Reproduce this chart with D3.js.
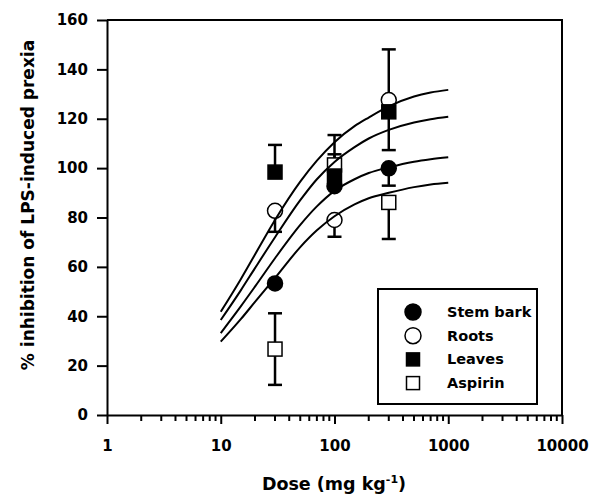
<!DOCTYPE html>
<html><head><meta charset="utf-8">
<script src="https://cdn.jsdelivr.net/npm/d3@7"></script>
<style>body{margin:0;background:#fff}svg{display:block}</style>
</head><body>
<svg id="c" width="592" height="497"></svg>
<script>
// ---- data ----
const doses = [30, 100, 300];
const seriesNames = ["Stem bark", "Roots", "Leaves", "Aspirin"];
const stemBark = [53.3, 92.7, 99.9];
const roots    = [82.7, 79.0, 127.6];
const leaves   = [98.4, 96.8, 122.8];
const aspirin  = [26.7, 101.3, 86.1];
const stemUp = [0, 0, 0],      stemDown = [0, 0, 7.0];
const rootsUp = [0, 0, 20.5],  rootsDown = [8.5, 6.8, 0];
const leavesUp = [11.0, 16.6, 0], leavesDown = [0, 0, 15.5];
const aspUp = [14.5, 4.3, 0],  aspDown = [14.5, 0, 14.8];
// fitted curves at these doses
const curveX = [10, 15, 20, 30, 50, 70, 100, 150, 200, 300, 500, 700, 1000];
const curve1 = [41.8, 55.0, 65.0, 79.0, 94.5, 103.0, 110.5, 117.0, 120.5, 125.0, 129.0, 130.6, 131.7];
const curve2 = [38.5, 50.5, 59.5, 72.0, 87.0, 95.5, 102.5, 108.5, 112.0, 115.5, 118.5, 119.8, 120.8];
const curve3 = [33.2, 44.0, 52.0, 63.5, 77.0, 84.5, 90.8, 95.5, 98.0, 100.3, 102.6, 103.6, 104.4];
const curve4 = [29.7, 38.8, 45.8, 55.5, 68.0, 74.8, 80.5, 85.3, 87.8, 90.0, 92.3, 93.4, 94.1];
const xTickValues = [1, 10, 100, 1000, 10000];
const yTickValues = [0, 20, 40, 60, 80, 100, 120, 140, 160];

// ---- layout ----
const svg = d3.select("#c");
const L = 107, R = 562, T = 20, B = 415;
const x = d3.scaleLog().domain([1, 10000]).range([L, R]);
const y = d3.scaleLinear().domain([0, 160]).range([B, T]);
const font = "DejaVu Sans";

// frame (top, right)
svg.append("path").attr("d", `M${L},${T}H${R}V${B}`).attr("fill","none").attr("stroke","#000").attr("stroke-width",2);

// minor x ticks
const minor = [];
for (let d = 1; d < 10000; d *= 10) for (let k = 2; k <= 9; k++) minor.push(d * k);
svg.append("g").selectAll("line").data(minor).join("line")
  .attr("x1", d => x(d)).attr("x2", d => x(d)).attr("y1", B).attr("y2", B + 6)
  .attr("stroke", "#000").attr("stroke-width", 2);

// x axis
const gx = svg.append("g").attr("transform", `translate(0,${B})`)
  .call(d3.axisBottom(x).tickValues(xTickValues).tickFormat(d3.format("d")).tickSizeInner(9).tickSizeOuter(0).tickPadding(16));
gx.select(".domain").attr("stroke-width", 2);
gx.selectAll(".tick line").attr("stroke-width", 2);
gx.selectAll("text").attr("font-family", font).attr("font-weight", "bold").attr("font-size", 15).attr("fill","#000");

// y axis
const gy = svg.append("g").attr("transform", `translate(${L},0)`)
  .call(d3.axisLeft(y).tickValues(yTickValues).tickSizeInner(10).tickSizeOuter(0).tickPadding(9));
gy.select(".domain").attr("stroke-width", 2);
gy.selectAll(".tick line").attr("stroke-width", 2);
gy.selectAll("text").attr("font-family", font).attr("font-weight", "bold").attr("font-size", 15).attr("fill","#000");

// axis titles
svg.append("text").attr("transform", "translate(34,205) rotate(-90)").attr("text-anchor","middle")
  .attr("font-family", font).attr("font-weight","bold").attr("font-size",17).text("% inhibition of LPS-induced prexia");
const xt = svg.append("text").attr("x", 334).attr("y", 490).attr("text-anchor","middle")
  .attr("font-family", font).attr("font-weight","bold").attr("font-size",17.5);
xt.append("tspan").text("Dose (mg kg");
xt.append("tspan").attr("dy", -7).attr("font-size", 11).text("-1");
xt.append("tspan").attr("dy", 7).text(")");

// series table
const series = [
  {name: seriesNames[0], v: stemBark, up: stemUp, dn: stemDown, shape: "circle", fill: "#000"},
  {name: seriesNames[1], v: roots, up: rootsUp, dn: rootsDown, shape: "circle", fill: "#fff"},
  {name: seriesNames[3], v: aspirin, up: aspUp, dn: aspDown, shape: "square", fill: "#fff"},
  {name: seriesNames[2], v: leaves, up: leavesUp, dn: leavesDown, shape: "square", fill: "#000"}
];

// error bars
const eb = svg.append("g").attr("stroke", "#000").attr("stroke-width", 2.5);
series.forEach(s => {
  doses.forEach((d, i) => {
    const cx = x(d);
    [[s.up[i], 1], [s.dn[i], -1]].forEach(([e, sign]) => {
      if (e > 0) {
        const yEnd = y(s.v[i] + sign * e);
        eb.append("line").attr("x1", cx).attr("x2", cx).attr("y1", y(s.v[i])).attr("y2", yEnd);
        eb.append("line").attr("x1", cx - 7).attr("x2", cx + 7).attr("y1", yEnd).attr("y2", yEnd);
      }
    });
  });
});

// markers
function marker(g, shape, fill, cx, cy, size) {
  if (shape === "circle") {
    g.append("circle").attr("cx", cx).attr("cy", cy).attr("r", size / 2)
      .attr("fill", fill).attr("stroke", "#000").attr("stroke-width", 1.5);
  } else {
    g.append("rect").attr("x", cx - size / 2 + 0.5).attr("y", cy - size / 2 + 0.5).attr("width", size - 1).attr("height", size - 1)
      .attr("fill", fill).attr("stroke", "#000").attr("stroke-width", 1.5);
  }
}
const mg = svg.append("g");
series.forEach(s => doses.forEach((d, i) => marker(mg, s.shape, s.fill, x(d), y(s.v[i]), 15)));

// fitted curves
const line = d3.line().x((d, i) => x(curveX[i])).y(d => y(d)).curve(d3.curveMonotoneX);
svg.append("g").selectAll("path").data([curve1, curve2, curve3, curve4]).join("path")
  .attr("d", line).attr("fill", "none").attr("stroke", "#000").attr("stroke-width", 2);

// legend
const lg = svg.append("g");
lg.append("rect").attr("x", 378).attr("y", 289).attr("width", 159).attr("height", 115)
  .attr("fill", "#fff").attr("stroke", "#000").attr("stroke-width", 2);
const legendItems = [
  {name: seriesNames[0], shape: "circle", fill: "#000"},
  {name: seriesNames[1], shape: "circle", fill: "#fff"},
  {name: seriesNames[2], shape: "square", fill: "#000"},
  {name: seriesNames[3], shape: "square", fill: "#fff"}
];
legendItems.forEach((it, i) => {
  const cy = 312 + i * 23.7;
  marker(lg, it.shape, it.fill, 413, cy, it.shape === "circle" ? 16 : 14);
  lg.append("text").attr("x", 447).attr("y", cy + 5).attr("font-family", font).attr("font-weight","bold")
    .attr("font-size", 14.5).text(it.name);
});
</script>
</body></html>
